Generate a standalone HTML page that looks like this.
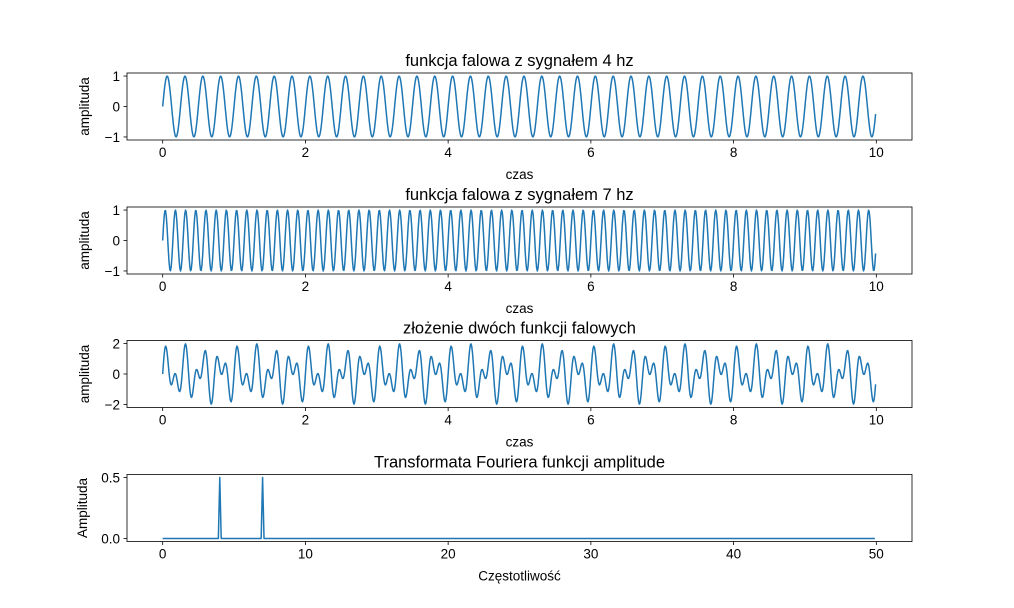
<!DOCTYPE html>
<html><head><meta charset="utf-8"><style>
html,body{margin:0;padding:0;background:#fff;}
svg{display:block;font-family:"Liberation Sans","DejaVu Sans",sans-serif;}
</style></head><body>
<svg id="fig" width="1014" height="608" viewBox="0 0 1014 608"></svg>
<script>
// ---- data ----
const freqs4 = [4];
const freqs7 = [7];
const freqsSum = [4, 7];
const ampsSum = [1, 1];
const sampleRate = 100;
const duration = 10;
const timeTicks = [0, 2, 4, 6, 8, 10];
const peakFreqs = [4, 7];
const peakAmps = [0.5, 0.5];
const freqTicks = [0, 10, 20, 30, 40, 50];
const yTicks1 = [1, 0, -1];
const yTicks3 = [2, 0, -2];
const yTicks4 = [0.5, 0.0];
const yTickLabels4 = ["0.5", "0.0"];

const NS = "http://www.w3.org/2000/svg";
const svg = document.getElementById("fig");
function el(tag, attrs, parent) {
  const e = document.createElementNS(NS, tag);
  for (const k in attrs) e.setAttribute(k, attrs[k]);
  (parent || svg).appendChild(e);
  return e;
}
function txt(s, x, y, size, anchor, parent, rot) {
  const t = el("text", {x: x, y: y, "font-size": size, "text-anchor": anchor || "middle", fill: "#000"}, parent);
  if (rot) t.setAttribute("transform", "rotate(-90 " + x + " " + y + ")");
  t.textContent = s;
  return t;
}

function panel(cfg) {
  const g = el("g", {});
  
  
  const L = 127, R = 912, T = cfg.top, B = cfg.top + 67;
  const xs = v => L + (v - cfg.xmin) / (cfg.xmax - cfg.xmin) * (R - L);
  const ys = v => B - (v - cfg.ymin) / (cfg.ymax - cfg.ymin) * (B - T);
  // line
  let d = "";
  cfg.xv.forEach((x, i) => { d += (i ? "L" : "M") + xs(x).toFixed(2) + " " + ys(cfg.yv[i]).toFixed(2); });
  const p = el("path", {d: d, fill: "none", stroke: "#1f77b4", "stroke-width": 1.5, "stroke-linejoin": "round"}, g);
  
  
  // frame
  const f = el("rect", {x: L, y: T, width: R - L, height: B - T, fill: "none", stroke: "#000", "stroke-width": 0.8}, g);
  
  
  // x ticks
  cfg.xticks.forEach(v => {
    const x = xs(v);
    el("line", {x1: x, x2: x, y1: B, y2: B + 3.5, stroke: "#000", "stroke-width": 0.8}, g);
    const t = txt(String(v), x, B + 17, 13.5, "middle", g);
    
    
  });
  cfg.yticks.forEach((v, i) => {
    const y = ys(v);
    el("line", {x1: L, x2: L - 3.5, y1: y, y2: y, stroke: "#000", "stroke-width": 0.8}, g);
    const lab = cfg.ylabels ? cfg.ylabels[i] : (v < 0 ? "\u2212" + Math.abs(v) : String(v));
    const t = txt(lab, L - 7, y + 5, 13.5, "end", g);
    
    
  });
  const ti = txt(cfg.title, (L + R) / 2, T - 7, 16.5, "middle", g);
  
  
  const xl = txt(cfg.xlabel, (L + R) / 2, B + 39, 13.5, "middle", g);
  
  
  const yl = txt(cfg.ylabel, cfg.ylabelX, (T + B) / 2, 13.5, "middle", g, true);
  
  
}

const N = sampleRate * duration;
const t = [];
for (let i = 0; i < N; i++) t.push(i / sampleRate);
function wave(fs, as) {
  return t.map(tt => fs.reduce((s, f, k) => s + (as ? as[k] : 1) * Math.sin(2 * Math.PI * f * tt), 0));
}
const w4 = wave(freqs4), w7 = wave(freqs7), wSum = wave(freqsSum, ampsSum);

// spectrum
const fx = [], fy = [];
for (let k = 0; k < N / 2; k++) {
  const f = k * sampleRate / N;
  fx.push(f);
  let a = 0;
  peakFreqs.forEach((pf, j) => { if (Math.abs(pf - f) < 1e-6) a = peakAmps[j]; });
  fy.push(a);
}

panel({name: "signal-4hz-panel", top: 73, xv: t, yv: w4, xmin: -0.5, xmax: 10.5, ymin: -1.1, ymax: 1.1,
  xticks: timeTicks, yticks: yTicks1, title: "funkcja falowa z sygnałem 4 hz", xlabel: "czas", ylabel: "amplituda", ylabelX: 89});
panel({name: "signal-7hz-panel", top: 207, xv: t, yv: w7, xmin: -0.5, xmax: 10.5, ymin: -1.1, ymax: 1.1,
  xticks: timeTicks, yticks: yTicks1, title: "funkcja falowa z sygnałem 7 hz", xlabel: "czas", ylabel: "amplituda", ylabelX: 89});
panel({name: "sum-signal-panel", top: 340.5, xv: t, yv: wSum, xmin: -0.5, xmax: 10.5, ymin: -2.2, ymax: 2.2,
  xticks: timeTicks, yticks: yTicks3, title: "złożenie dwóch funkcji falowych", xlabel: "czas", ylabel: "amplituda", ylabelX: 89});
panel({name: "fourier-panel", top: 474.5, xv: fx, yv: fy, xmin: -2.5, xmax: 52.5, ymin: -0.025, ymax: 0.525,
  xticks: freqTicks, yticks: yTicks4, ylabels: yTickLabels4, title: "Transformata Fouriera funkcji amplitude", xlabel: "Częstotliwość", ylabel: "Amplituda", ylabelX: 87});
</script>
</body></html>
